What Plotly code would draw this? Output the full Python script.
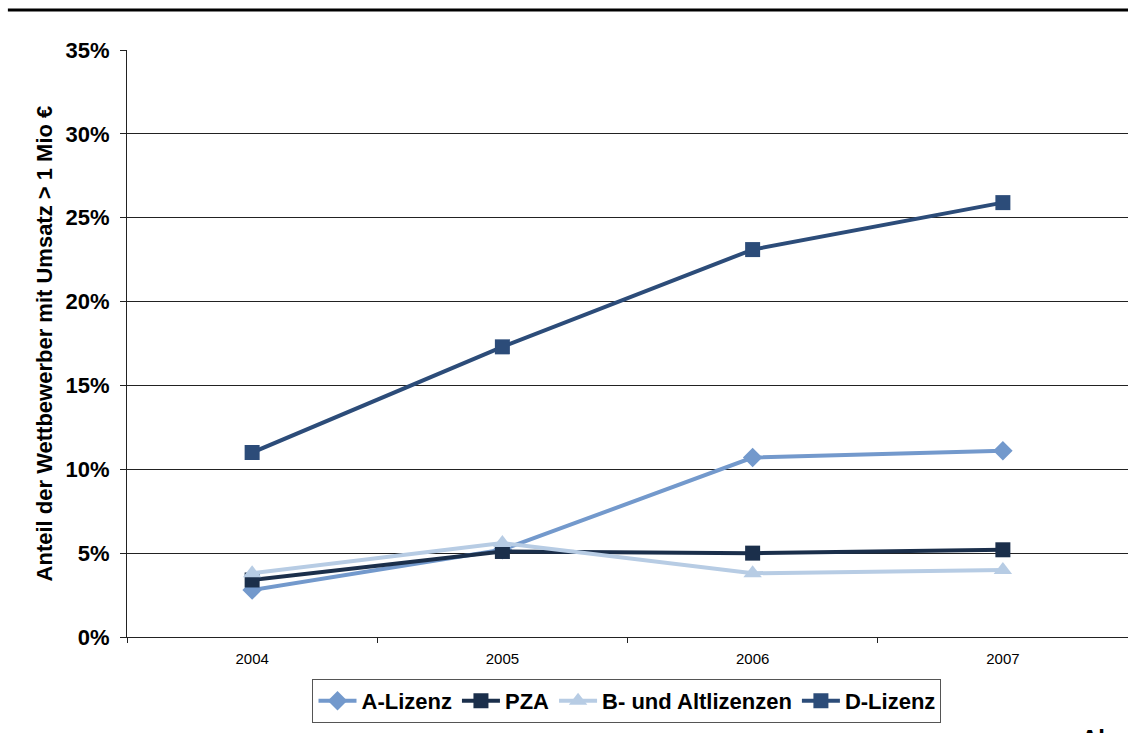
import plotly.graph_objects as go

years = ["2004", "2005", "2006", "2007"]
a_lizenz = [2.8, 5.2, 10.7, 11.1]
pza = [3.4, 5.1, 5.0, 5.2]
b_alt = [3.8, 5.6, 3.8, 4.0]
d_lizenz = [11.0, 17.3, 23.1, 25.9]

y_ticks = [0, 5, 10, 15, 20, 25, 30, 35]
y_labels = [f"{v}%" for v in y_ticks]

FONT = "Arial, Liberation Sans, sans-serif"

series = [
    ("A-Lizenz", a_lizenz, "#7399CC", "diamond", 15),
    ("PZA", pza, "#1B2F4B", "square", 15),
    ("B- und Altlizenzen", b_alt, "#B7CCE4", "triangle-up", 16),
    ("D-Lizenz", d_lizenz, "#2C4C79", "square", 15),
]

fig = go.Figure()
for name, vals, color, sym, size in series:
    fig.add_trace(go.Scatter(
        x=years, y=vals, name=name, mode="lines+markers",
        line=dict(color=color, width=4),
        marker=dict(symbol=sym, size=size, color=color),
    ))

fig.update_layout(
    width=1128, height=733,
    margin=dict(l=127, r=0, t=50, b=96),
    paper_bgcolor="white", plot_bgcolor="white",
    font=dict(family=FONT, color="black"),
    showlegend=True,
    legend=dict(
        orientation="h", x=0.4995, xanchor="center", y=-0.109, yanchor="middle",
        font=dict(size=22, family=FONT, color="black", weight="bold"),
        bordercolor="#555", borderwidth=1, bgcolor="white",
        tracegroupgap=0, itemwidth=38,
    ),
    xaxis=dict(
        type="category", range=[-0.5, 3.5],
        showline=True, linecolor="#222", linewidth=1,
        ticks="outside", tickson="boundaries", ticklen=5, tickcolor="#222",
        ticklabelstandoff=8,
        showgrid=False, zeroline=False,
        tickfont=dict(size=15, family=FONT, color="black"),
    ),
    yaxis=dict(
        range=[0, 35], tickvals=y_ticks, ticktext=y_labels,
        showline=True, linecolor="#222", linewidth=1,
        ticks="outside", ticklen=6, tickcolor="#222", ticklabelstandoff=6,
        showgrid=True, gridcolor="#222", gridwidth=1, zeroline=False,
        tickfont=dict(size=22, family=FONT, color="black", weight="bold"),
    ),
    shapes=[dict(
        type="line", xref="paper", yref="paper",
        x0=-0.119, x1=1.0, y0=1.068, y1=1.068,
        line=dict(color="black", width=3),
    )],
    annotations=[
        dict(
            text="Anteil der Wettbewerber mit Umsatz > 1 Mio €",
            xref="paper", yref="paper", x=-0.082, y=0.5,
            xanchor="center", yanchor="middle",
            textangle=-90, showarrow=False,
            font=dict(size=22, family=FONT, color="black", weight="bold"),
        ),
        dict(
            text="Al", xref="paper", yref="paper", x=0.951, y=-0.146,
            xanchor="left", yanchor="top", showarrow=False,
            font=dict(size=24, family=FONT, color="black", weight="bold"),
        ),
    ],
)

fig.write_html("out.html", config={"displayModeBar": False},
               post_script="document.body.style.margin='0px';")
